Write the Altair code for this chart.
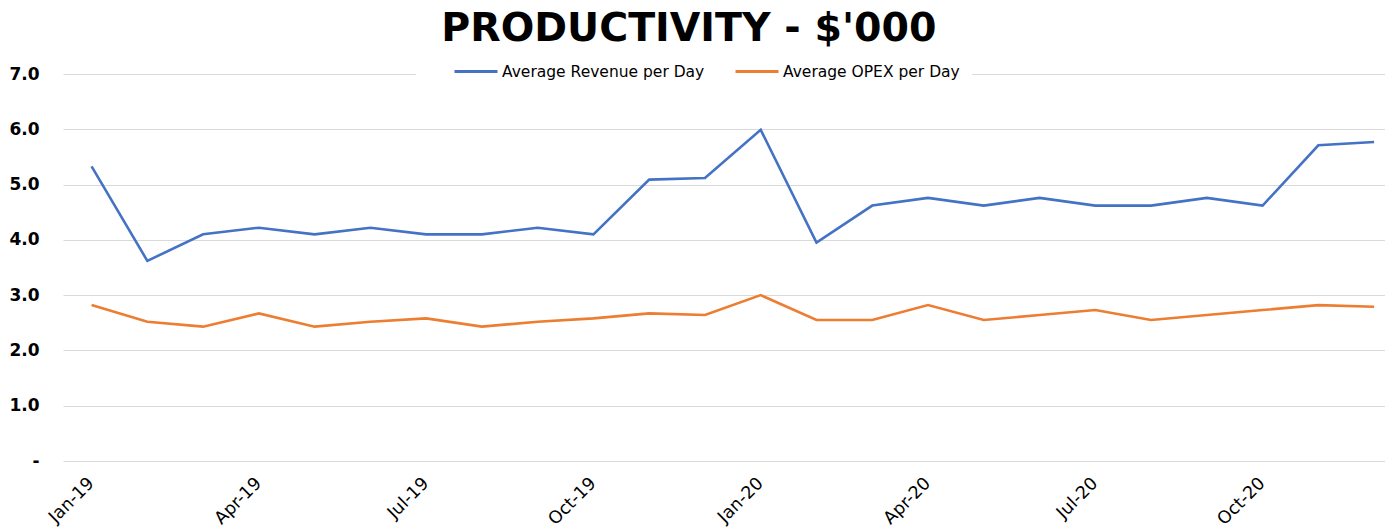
import altair as alt
import pandas as pd

months = ["Jan-19", "Feb-19", "Mar-19", "Apr-19", "May-19", "Jun-19",
          "Jul-19", "Aug-19", "Sep-19", "Oct-19", "Nov-19", "Dec-19",
          "Jan-20", "Feb-20", "Mar-20", "Apr-20", "May-20", "Jun-20",
          "Jul-20", "Aug-20", "Sep-20", "Oct-20", "Nov-20", "Dec-20"]
revenue = [5.33, 3.62, 4.10, 4.22, 4.10, 4.22, 4.10, 4.10, 4.22, 4.10, 5.09, 5.12,
           5.99, 3.95, 4.62, 4.76, 4.62, 4.76, 4.62, 4.62, 4.76, 4.62, 5.71, 5.77]
opex = [2.82, 2.52, 2.43, 2.67, 2.43, 2.52, 2.58, 2.43, 2.52, 2.58, 2.67, 2.64,
        3.00, 2.55, 2.55, 2.82, 2.55, 2.64, 2.73, 2.55, 2.64, 2.73, 2.82, 2.79]
series_names = ["Average Revenue per Day", "Average OPEX per Day"]
series_colors = ["#4472C4", "#ED7D31"]
shown_labels = ["Jan-19", "Apr-19", "Jul-19", "Oct-19", "Jan-20", "Apr-20", "Jul-20", "Oct-20"]
y_ticks = [0, 1, 2, 3, 4, 5, 6, 7]

rows = []
for i, m in enumerate(months):
    rows.append({"month": m, "series": series_names[0], "value": revenue[i], "order": i})
    rows.append({"month": m, "series": series_names[1], "value": opex[i], "order": i})
df = pd.DataFrame(rows)

FONT = "DejaVu Sans"

# legend line symbol: offset to the right inside its box so the white legend
# background leaves a gap in the top gridline like the original
LEGEND_SYMBOL = "M2.125,0H7.5"

chart = alt.Chart(df).mark_line(strokeWidth=2.6).encode(
    x=alt.X("month:N", sort=months,
            scale=alt.Scale(type="point", padding=0.354, align=0.724),
            axis=alt.Axis(title=None, values=shown_labels, labelAngle=-45,
                          labelAlign="right", labelBaseline="top",
                          labelPadding=13, labelOffset=-7,
                          labelFontSize=17.5, labelFont=FONT, labelColor="#000000",
                          domain=False, ticks=False, grid=False, labelOverlap=False)),
    y=alt.Y("value:Q", scale=alt.Scale(domain=[0, 7], nice=False),
            axis=alt.Axis(title=None, values=y_ticks,
                          labelExpr="datum.value == 0 ? '-' : format(datum.value, '.1f')",
                          labelFontSize=17, labelFontWeight="bold", labelFont=FONT,
                          labelColor="#000000", labelPadding=24,
                          domain=False, ticks=False, grid=True,
                          gridColor="#D9D9D9", gridWidth=1.2)),
    color=alt.Color("series:N", sort=series_names,
                    scale=alt.Scale(domain=series_names, range=series_colors),
                    legend=alt.Legend(title=None, orient="none", direction="horizontal",
                                      legendX=353, legendY=-24,
                                      symbolType=LEGEND_SYMBOL, symbolSize=256,
                                      symbolStrokeWidth=3, labelOffset=55,
                                      columnPadding=4, labelFontSize=15.5,
                                      labelFont=FONT, labelColor="#000000",
                                      labelLimit=400, fillColor="#FFFFFF",
                                      padding=12)),
    order="order:Q",
).properties(
    width=1322,
    height=387,
    title=alt.Title("PRODUCTIVITY - $'000", fontSize=39.5, fontWeight="bold",
                    font=FONT, color="#000000", anchor="middle", frame="bounds",
                    dx=-8, offset=1),
    padding={"left": 0, "top": 0, "right": 0, "bottom": 0},
    background="#FFFFFF",
).configure_view(stroke=None)

chart.save("out.html", embed_options={"renderer": "svg", "actions": False})
